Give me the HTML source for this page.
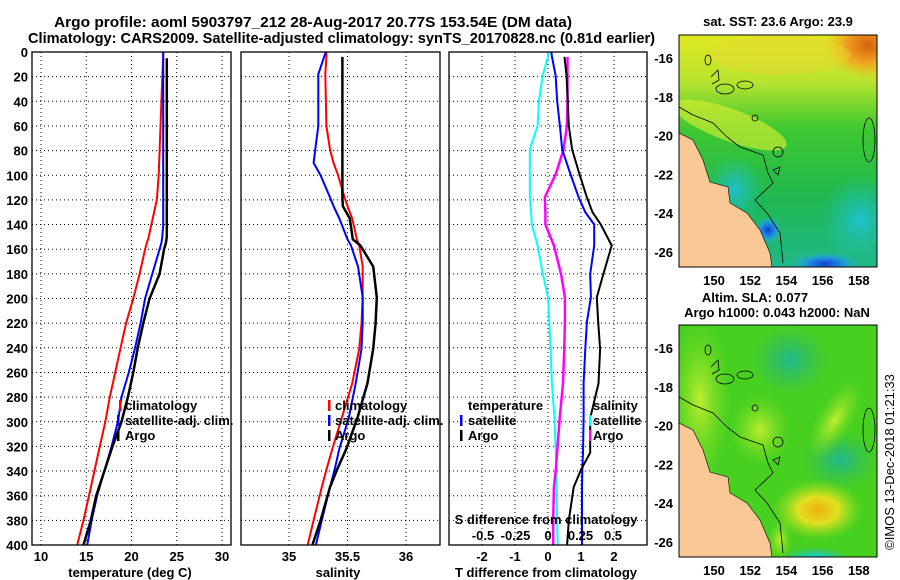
<!DOCTYPE html>
<html><head><meta charset="utf-8">
<style>
body{margin:0;background:#fff;}
svg{display:block;font-family:"Liberation Sans",sans-serif;font-weight:bold;}
</style></head>
<body>
<svg id="c" width="900" height="580" viewBox="0 0 900 580">
<text x="54" y="27" font-size="15" textLength="518" lengthAdjust="spacingAndGlyphs">Argo profile: aoml 5903797_212 28-Aug-2017 20.77S 153.54E (DM data)</text>
<text x="28" y="43" font-size="15" textLength="627" lengthAdjust="spacingAndGlyphs">Climatology: CARS2009. Satellite-adjusted climatology: synTS_20170828.nc (0.81d earlier)</text>
<g id="g"></g>
<defs>
<clipPath id="m1c"><rect x="679" y="35" width="198" height="232"/></clipPath>
<clipPath id="m2c"><rect x="679" y="325" width="198" height="232"/></clipPath>
<radialGradient id="orng"><stop offset="0" stop-color="#d86010"/><stop offset="0.5" stop-color="#f0a020"/><stop offset="1" stop-color="#f0c020" stop-opacity="0"/></radialGradient>
<radialGradient id="blu"><stop offset="0" stop-color="#1040d0"/><stop offset="0.5" stop-color="#2090e0"/><stop offset="1" stop-color="#20c0c0" stop-opacity="0"/></radialGradient>
<radialGradient id="cy"><stop offset="0" stop-color="#20c0d0"/><stop offset="1" stop-color="#20c0a0" stop-opacity="0"/></radialGradient>
<radialGradient id="teal"><stop offset="0" stop-color="#20b890"/><stop offset="1" stop-color="#30b860" stop-opacity="0"/></radialGradient>
<radialGradient id="yl"><stop offset="0" stop-color="#f0b010"/><stop offset="0.45" stop-color="#e0e020"/><stop offset="1" stop-color="#a0e020" stop-opacity="0"/></radialGradient>
<radialGradient id="lg"><stop offset="0" stop-color="#c0ec30"/><stop offset="1" stop-color="#80e020" stop-opacity="0"/></radialGradient>
<radialGradient id="cyb"><stop offset="0" stop-color="#10d0e0"/><stop offset="1" stop-color="#20c0c0" stop-opacity="0"/></radialGradient>
<linearGradient id="sstv" x1="0" y1="0" x2="0" y2="1"><stop offset="0" stop-color="#e0e820"/><stop offset="0.2" stop-color="#b8e430"/><stop offset="0.4" stop-color="#40c830"/><stop offset="0.7" stop-color="#20b850"/><stop offset="1" stop-color="#20b888"/></linearGradient>
<g id="feat">
<polyline points="679,107 693,115 713,123 727,137 740,147 763,155 768,173 773,183 755,200 767,213 780,233 783,263" fill="none" stroke="#000" stroke-width="0.8"/>
<circle cx="778" cy="152" r="5" fill="none" stroke="#000" stroke-width="0.8"/>
<circle cx="755" cy="118" r="3" fill="none" stroke="#000" stroke-width="0.8"/>
<polygon points="773,170 780,167 778,175" fill="none" stroke="#000" stroke-width="0.8"/>
<ellipse cx="708" cy="60" rx="3" ry="5" fill="none" stroke="#000" stroke-width="0.8"/>
<polyline points="711,77 718,70 719,80 712,84" fill="none" stroke="#000" stroke-width="0.8"/>
<ellipse cx="725" cy="89" rx="9" ry="5" fill="none" stroke="#000" stroke-width="0.8"/>
<ellipse cx="745" cy="85" rx="8" ry="4" fill="none" stroke="#000" stroke-width="0.8"/>
<ellipse cx="869" cy="140" rx="6" ry="22" fill="none" stroke="#000" stroke-width="0.8"/>
<polygon points="679,133 693,140 703,160 710,182 728,187 730,203 747,213 760,230 770,253 772,267 679,267" fill="#f9c896" stroke="#000" stroke-width="0.6"/>
</g>
</defs>
<g clip-path="url(#m1c)">
<rect x="679" y="35" width="198" height="232" fill="url(#sstv)"/>
<ellipse cx="868" cy="45" rx="45" ry="35" fill="url(#orng)"/>
<ellipse cx="780" cy="55" rx="70" ry="20" fill="#e8d830" opacity="0.45"/>
<ellipse cx="730" cy="125" rx="60" ry="16" fill="#e0f030" opacity="0.6" transform="rotate(20 730 125)"/>
<ellipse cx="735" cy="190" rx="30" ry="35" fill="url(#cy)"/>
<ellipse cx="860" cy="220" rx="40" ry="45" fill="url(#cy)"/>
<ellipse cx="768" cy="230" rx="14" ry="14" fill="url(#blu)"/>
<ellipse cx="825" cy="264" rx="35" ry="12" fill="url(#blu)"/>
<use href="#feat"/>
</g>
<rect x="679" y="35" width="198" height="232" fill="none" stroke="#000"/>
<text x="778" y="26" font-size="13" text-anchor="middle">sat. SST: 23.6 Argo: 23.9</text>
<g clip-path="url(#m2c)">
<rect x="679" y="325" width="198" height="232" fill="#48d020"/>
<ellipse cx="790" cy="360" rx="40" ry="35" fill="url(#teal)"/>
<ellipse cx="840" cy="460" rx="40" ry="30" fill="url(#teal)"/>
<ellipse cx="835" cy="420" rx="18" ry="45" fill="url(#lg)" transform="rotate(30 835 420)"/>
<ellipse cx="700" cy="400" rx="30" ry="80" fill="url(#lg)"/>
<ellipse cx="760" cy="430" rx="30" ry="35" fill="url(#lg)"/>
<ellipse cx="818" cy="510" rx="45" ry="30" fill="url(#yl)"/>
<ellipse cx="780" cy="540" rx="12" ry="20" fill="url(#lg)"/>
<ellipse cx="815" cy="557" rx="35" ry="10" fill="url(#cyb)"/>
<use href="#feat" transform="translate(0,290)"/>
</g>
<rect x="679" y="325" width="198" height="232" fill="none" stroke="#000"/>
<text x="755" y="302" font-size="13" text-anchor="middle">Altim. SLA: 0.077</text>
<text x="777" y="317" font-size="13" text-anchor="middle">Argo h1000: 0.043 h2000: NaN</text>
<text transform="translate(894,462) rotate(-90)" font-size="13" font-weight="normal" text-anchor="middle">©IMOS 13-Dec-2018 01:21:33</text>
</svg>
<script>
// depth grid
const depthTicks=[0,20,40,60,80,100,120,140,160,180,200,220,240,260,280,300,320,340,360,380,400];
// temperature panel
const tDepth=[0,5,20,40,60,80,100,120,140,150,155,160,180,200,220,240,260,280,300,320,340,360,380,400];
const tArgo=[null,23.9,23.9,23.9,23.9,23.9,23.9,23.9,23.9,23.9,23.8,23.6,23.1,22.0,21.3,20.7,20.2,19.6,18.9,17.9,17.0,16.1,15.5,14.7];
const tSat =[23.5,23.5,23.5,23.5,23.5,23.5,23.5,23.5,23.5,23.4,23.3,23.1,22.3,21.5,21.0,20.4,19.7,18.9,18.5,17.8,17.0,16.2,15.6,15.1];
const tClim=[23.5,23.5,23.4,23.3,23.2,23.1,23.0,22.8,22.2,21.9,21.7,21.5,20.9,20.2,19.4,18.8,18.2,17.6,17.1,16.5,15.9,15.3,14.7,14.0];
const tTicks=[10,15,20,25,30];
// salinity panel
const sDepth=[0,4,18,40,60,79,90,100,118,125,135,152,157,174,199,220,241,269,297,322,339,353,380,400];
const sArgo=[null,35.456,35.456,35.456,35.456,35.456,35.456,35.456,35.456,35.46,35.52,35.545,35.61,35.72,35.75,35.74,35.72,35.67,35.585,35.49,35.41,35.35,35.27,35.2];
const sSat =[35.315,35.3,35.25,35.25,35.25,35.225,35.21,35.27,35.35,35.38,35.43,35.5,35.53,35.59,35.63,35.63,35.62,35.57,35.51,35.43,35.39,35.35,35.28,35.23];
const sClim=[35.32,35.32,35.31,35.315,35.32,35.35,35.38,35.42,35.475,35.5,35.54,35.58,35.6,35.63,35.63,35.62,35.6,35.54,35.45,35.37,35.32,35.28,35.21,35.16];
const sTicks=[35,35.5,36];
// difference panel
const dDepth=[0,4,19,40,60,79,99,118,130,140,157,180,199,219,241,269,297,325,339,353,380,400];
const dTSat =[0.1,0.12,0.23,0.28,0.36,0.43,0.68,0.93,1.13,1.4,1.4,1.28,1.3,1.18,1.13,1.08,1.08,1.06,1.04,1.03,1.03,1.03];
const dTArgo=[null,0.5,0.56,0.6,0.63,0.73,0.95,1.18,1.35,1.6,1.93,1.68,1.48,1.52,1.58,1.53,1.28,1.28,1.0,0.78,0.63,0.58];
const dSSat =[0,0,-0.04,-0.07,-0.08,-0.14,-0.14,-0.14,-0.13,-0.125,-0.08,-0.04,0,0.01,0.02,0.03,0.05,0.06,0.065,0.065,0.07,0.075];
const dSArgo=[null,0.15,0.15,0.15,0.145,0.12,0.06,-0.025,-0.02,-0.02,0.045,0.1,0.13,0.13,0.125,0.115,0.09,0.07,0.06,0.045,0.04,0.04];
const dTTicks=[-2,-1,0,1,2];
const dSTicks=[-0.5,-0.25,0,0.25,0.5];
const dSLabels=["-0.5","-0.25","0","0.25","0.5"];
// map ticks
const lonTicks=[150,152,154,156,158];
const latTicks=[-16,-18,-20,-22,-24,-26];

const NS='http://www.w3.org/2000/svg';
const G=document.getElementById('g');
function mk(tag,attrs,parent){const e=document.createElementNS(NS,tag);for(const k in attrs)e.setAttribute(k,attrs[k]);(parent||G).appendChild(e);return e;}
const yD=d=>52+d*1.2325;
const TOP=52,BOT=545;
const xT=v=>41+(v-10)*9.05;
const xS=v=>289+(v-35)*117;
const xDT=v=>548+v*33;
const xDS=v=>548+v*130;

function grid(x0,x1,xs){
  depthTicks.forEach(d=>{if(d>0&&d<400){const l=mk('line',{x1:x0,x2:x1,y1:yD(d),y2:yD(d),stroke:'#000','stroke-dasharray':'1,3','stroke-width':1});
  }});
  xs.forEach(x=>{const l=mk('line',{x1:x,x2:x,y1:TOP,y2:BOT,stroke:'#000','stroke-dasharray':'1,3','stroke-width':1});
  });
}
function frame(x0,x1,name){const r=mk('rect',{x:x0,y:TOP,width:x1-x0,height:BOT-TOP,fill:'none',stroke:'#000','stroke-width':1.3});
}
function line(depths,vals,xf,color,w,name){
  let p='';depths.forEach((d,i)=>{if(vals[i]!==null)p+=(p?'L':'M')+xf(vals[i]).toFixed(1)+','+yD(d).toFixed(1);});
  const e=mk('path',{d:p,fill:'none',stroke:color,'stroke-width':w});
  
}
function txt(x,y,s,anchor,size,name){const t=mk('text',{x:x,y:y,'font-size':size||12,'text-anchor':anchor||'start'});t.textContent=s;
return t;}
function mark(x,y,color,name){const r=mk('rect',{x:x,y:y-10,width:2.5,height:11,fill:color});
}

// panel 1
grid(32,231,tTicks.map(xT));
line(tDepth,tClim,xT,'#ff0000',2,'temperature-climatology-line');
line(tDepth,tSat,xT,'#0000ff',2,'temperature-satellite-line');
line(tDepth,tArgo,xT,'#000',2.5,'temperature-argo-line');
frame(32,231,'temperature-panel-frame');
depthTicks.forEach(d=>txt(28,yD(d)+5,String(d),'end',13,'depth-tick-label'));
tTicks.forEach(v=>txt(xT(v),561,String(v),'middle',13,'temperature-tick-label'));
txt(130,577,'temperature (deg C)','middle',13,'temperature-axis-title');
mark(119,410,'#ff0000','legend-climatology-marker');txt(125,410,'climatology','start',13,'legend-climatology');
mark(117,425,'#0000ff','legend-satellite-marker');txt(125,425,'satellite-adj. clim.','start',13,'legend-satellite');
mark(117,440,'#000','legend-argo-marker');txt(125,440,'Argo','start',13,'legend-argo');

// panel 2
grid(241,440,sTicks.map(xS));
line(sDepth,sClim,xS,'#ff0000',2,'salinity-climatology-line');
line(sDepth,sSat,xS,'#0000ff',2,'salinity-satellite-line');
line(sDepth,sArgo,xS,'#000',2.5,'salinity-argo-line');
frame(241,440,'salinity-panel-frame');
sTicks.forEach(v=>txt(xS(v),561,String(v),'middle',13,'salinity-tick-label'));
txt(338,577,'salinity','middle',13,'salinity-axis-title');
mark(328,410,'#ff0000','legend-climatology-marker');txt(335,410,'climatology','start',13,'legend-climatology');
mark(328,425,'#0000ff','legend-satellite-marker');txt(335,425,'satellite-adj. clim.','start',13,'legend-satellite');
mark(328,440,'#000','legend-argo-marker');txt(335,440,'Argo','start',13,'legend-argo');

// panel 3
grid(449,647,dTTicks.map(xDT));
line(dDepth,dSSat,xDS,'#00ffff',2,'salinity-diff-satellite-line');
line(dDepth,dSArgo,xDS,'#ff00ff',2.5,'salinity-diff-argo-line');
line(dDepth,dTSat,xDT,'#0000ff',2,'temperature-diff-satellite-line');
line(dDepth,dTArgo,xDT,'#000',2,'temperature-diff-argo-line');
frame(449,647,'difference-panel-frame');
dTTicks.forEach(v=>txt(xDT(v),561,String(v),'middle',13,'t-diff-tick-label'));
dSTicks.forEach((v,i)=>txt(xDS(v),540,dSLabels[i],'middle',13,'s-diff-tick-label'));
txt(546,524,'S difference from climatology','middle',13,'s-diff-axis-title');
txt(546,577,'T difference from climatology','middle',13,'t-diff-axis-title');
txt(468,410,'temperature','start',13,'legend-temperature-header');
mark(460,425,'#0000ff','legend-t-satellite-marker');txt(468,425,'satellite','start',13,'legend-t-satellite');
mark(460,440,'#000','legend-t-argo-marker');txt(468,440,'Argo','start',13,'legend-t-argo');
txt(593,410,'salinity','start',13,'legend-salinity-header');
mark(589,425,'#00ffff','legend-s-satellite-marker');txt(593,425,'satellite','start',13,'legend-s-satellite');
mark(589,440,'#ff00ff','legend-s-argo-marker');txt(593,440,'Argo','start',13,'legend-s-argo');

// map ticks
const xLon=v=>714+(v-150)*18.1;
const yLat1=v=>58+(-16-v)*19.4;
const yLat2=v=>348+(-16-v)*19.4;
lonTicks.forEach(v=>{txt(xLon(v),285,String(v),'middle',13,'sst-map-lon-label');txt(xLon(v),575,String(v),'middle',13,'sla-map-lon-label');
  [[35,39],[263,267],[325,329],[553,557]].forEach(p=>mk('line',{x1:xLon(v),x2:xLon(v),y1:p[0],y2:p[1],stroke:'#000'}));});
latTicks.forEach(v=>{txt(673,yLat1(v)+5,String(v),'end',13,'sst-map-lat-label');txt(673,yLat2(v)+5,String(v),'end',13,'sla-map-lat-label');
  [yLat1(v),yLat2(v)].forEach(y=>{mk('line',{x1:873,x2:877,y1:y,y2:y,stroke:'#000'});mk('line',{x1:679,x2:683,y1:y,y2:y,stroke:'#000'});});});
</script>
</body></html>
